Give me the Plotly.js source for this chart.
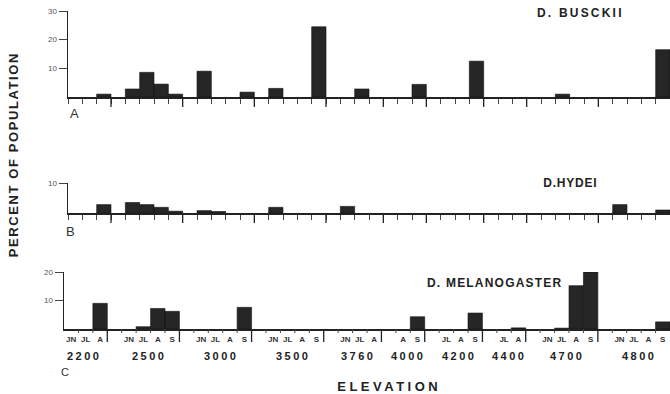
<!DOCTYPE html>
<html><head><meta charset="utf-8">
<script src="https://cdn.plot.ly/plotly-3.0.1.min.js"></script>
<style>
html,body{margin:0;padding:0;background:#fff;}
#chart{width:670px;height:394px;}
.annotation[data-index="0"] .annotation-text{letter-spacing:1.6px;}
.annotation[data-index="1"] .annotation-text{letter-spacing:3.5px;}
.annotation[data-index="2"] .annotation-text,.annotation[data-index="3"] .annotation-text,
.annotation[data-index="4"] .annotation-text,.annotation[data-index="5"] .annotation-text,
.annotation[data-index="6"] .annotation-text,.annotation[data-index="7"] .annotation-text,
.annotation[data-index="8"] .annotation-text,.annotation[data-index="9"] .annotation-text,
.annotation[data-index="10"] .annotation-text,.annotation[data-index="11"] .annotation-text{letter-spacing:2.5px;}
.annotation[data-index="12"] .annotation-text{letter-spacing:2.2px;}
.annotation[data-index="13"] .annotation-text{letter-spacing:0.8px;}
.annotation[data-index="14"] .annotation-text{letter-spacing:1.2px;}
</style></head><body><div id="chart"></div>
<script>
// ---- data ----
const elevations = ['2200','2500','3000','3500','3760','4000','4200','4400','4700','4800'];
const monthsByElevation = [
  ['JN','JL','A'], ['JN','JL','A','S'], ['JN','JL','A','S'], ['JN','JL','A','S'], ['JN','JL','A'],
  ['A','S'], ['JL','A','S'], ['JL','A'], ['JN','JL','A','S'], ['JN','JL','A','S']
];
// percent of population, one value per month slot in the order above
const busckii = [
  0, 0, 1,
  2.8, 8.6, 4.5, 1,
  9, 0, 0, 1.7,
  3, 0, 0, 24.5,
  0, 2.8, 0,
  0, 4.4,
  0, 0, 12.5,
  0, 0,
  0, 1, 0, 0,
  0, 0, 0, 16.5
];
const hydei = [
  0, 0, 2.8,
  3.5, 2.8, 1.9, 0.6,
  0.8, 0.5, 0, 0,
  1.9, 0, 0, 0,
  2.2, 0, 0,
  0, 0,
  0, 0, 0,
  0, 0,
  0, 0, 0, 0,
  2.8, 0, 0, 1
];
const melanogaster = [
  0, 0, 9,
  0, 0.8, 7.2, 6.2,
  0, 0, 0, 7.6,
  0, 0, 0, 0,
  0, 0, 0,
  0, 4.3,
  0, 0, 5.6,
  0, 0.4,
  0, 0.3, 15.2, 20,
  0, 0, 0, 2.5
];
const speciesNames = ['D. BUSCKII', 'D.HYDEI', 'D. MELANOGASTER'];
const panelLetters = ['A', 'B', 'C'];

// ---- slot layout: one slot per month, one empty slot between elevations ----
const slotCenters = [], slotMonths = [], groupEnds = [], groupCenters = [];
let s = 0;
monthsByElevation.forEach((ms, g) => {
  const start = s;
  ms.forEach(m => { slotCenters.push(s + 0.5); slotMonths.push(m); s++; });
  groupCenters.push(start + ms.length / 2);
  if (g < monthsByElevation.length - 1) groupEnds.push(s);
  s++;
});
const nSlots = s - 1;

const W = 670, H = 394;
const px = v => v / W, py = v => 1 - v / H;
const font = 'Liberation Sans, Arial, sans-serif';
const ink = '#222';
const barStyle = {color: '#262626', line: {color: '#111', width: 0.6}};

// only non-zero bars are drawn
const traces = [busckii, hydei, melanogaster].map((vals, i) => {
  const xs = [], ys = [];
  vals.forEach((v, k) => { if (v > 0) { xs.push(slotCenters[k]); ys.push(v); } });
  return {
    type: 'bar', x: xs, y: ys, width: 1,
    xaxis: i === 0 ? 'x' : 'x' + (i + 1), yaxis: i === 0 ? 'y' : 'y' + (i + 1),
    marker: barStyle, hoverinfo: 'skip', showlegend: false
  };
});

const yDomains = [[py(97), py(11)], [py(213), py(183)], [py(329), py(272)]];

const xBase = {
  range: [0, nSlots], showline: true, linecolor: ink, linewidth: 1.5,
  showgrid: false, zeroline: false, fixedrange: true
};
const yBase = {
  showline: true, linecolor: ink, linewidth: 1.5, showgrid: false, zeroline: false,
  ticks: 'outside', ticklen: 8, tickwidth: 1, tickcolor: '#444',
  tickfont: {family: font, size: 8, color: '#555'}, fixedrange: true
};

const layout = {
  width: W, height: H, margin: {l: 0, r: 0, t: 0, b: 0},
  paper_bgcolor: '#fff', plot_bgcolor: 'rgba(0,0,0,0)', bargap: 0,
  xaxis: Object.assign({}, xBase, {domain: [px(68), 1], anchor: 'y',
    ticks: 'outside', tickmode: 'linear', tick0: 0, dtick: 1, ticklen: 5, tickcolor: '#444', tickwidth: 1,
    showticklabels: false}),
  xaxis2: Object.assign({}, xBase, {domain: [px(68), 1], anchor: 'y2',
    ticks: 'outside', tickmode: 'linear', tick0: 0, dtick: 1, ticklen: 5, tickcolor: '#444', tickwidth: 1,
    showticklabels: false}),
  xaxis3: Object.assign({}, xBase, {domain: [px(64), 1], anchor: 'y3',
    tickmode: 'array', tickvals: slotCenters, ticktext: slotMonths, ticks: '',
    ticklabelstandoff: 2,
    tickfont: {family: font, size: 8, color: '#333', weight: 'bold'}}),
  yaxis: Object.assign({}, yBase, {domain: yDomains[0], range: [0, 30], tickvals: [10, 20, 30], anchor: 'x'}),
  yaxis2: Object.assign({}, yBase, {domain: yDomains[1], range: [0, 10], tickvals: [10], anchor: 'x2'}),
  yaxis3: Object.assign({}, yBase, {domain: yDomains[2], range: [0, 20], tickvals: [10, 20], anchor: 'x3'}),
  shapes: [],
  annotations: []
};

// long separator ticks at the end of each elevation group (all panels)
['x', 'x2', 'x3'].forEach((xa, i) => {
  groupEnds.forEach(e => layout.shapes.push({
    type: 'line', xref: xa, yref: 'paper', x0: e, x1: e,
    ysizemode: 'pixel', yanchor: yDomains[i][0], y0: 0, y1: i === 2 ? -13 : -10,
    line: {color: ink, width: 1.3}
  }));
});
// short month-boundary ticks on panel C
for (let b = 1; b < nSlots; b++) {
  if (groupEnds.indexOf(b) >= 0) continue;
  layout.shapes.push({
    type: 'line', xref: 'x3', yref: 'paper', x0: b, x1: b,
    ysizemode: 'pixel', yanchor: yDomains[2][0], y0: 0, y1: -4,
    line: {color: '#444', width: 1}
  });
}

const A = layout.annotations;
const txt = (o) => Object.assign({showarrow: false, xanchor: 'center', yanchor: 'middle',
  xref: 'paper', yref: 'paper'}, o);
A.push(txt({text: 'PERCENT OF POPULATION', x: px(12.5), y: py(155), textangle: -90,
  font: {family: font, size: 13, color: ink, weight: 'bold'}}));
A.push(txt({text: 'ELEVATION', x: px(389), y: py(386),
  font: {family: font, size: 13, color: ink, weight: 'bold'}}));
elevations.forEach((e, g) => A.push(txt({text: e, xref: 'x3', x: groupCenters[g], y: py(356),
  xshift: -2, font: {family: font, size: 11, color: ink, weight: 'bold'}})));
const titleCenters = [[580, 13], [570, 183], [495, 283]];
speciesNames.forEach((n, i) => A.push(txt({text: n, x: px(titleCenters[i][0]), y: py(titleCenters[i][1]),
  font: {family: font, size: 12, color: ink, weight: 'bold'}})));
const letterPos = [[74, 113, 13], [70, 231, 13], [65, 372, 11]];
panelLetters.forEach((l, i) => A.push(txt({text: l, x: px(letterPos[i][0]), y: py(letterPos[i][1]),
  font: {family: font, size: letterPos[i][2], color: '#333'}})));

Plotly.newPlot('chart', traces, layout, {staticPlot: true, displayModeBar: false});
</script></body></html>
